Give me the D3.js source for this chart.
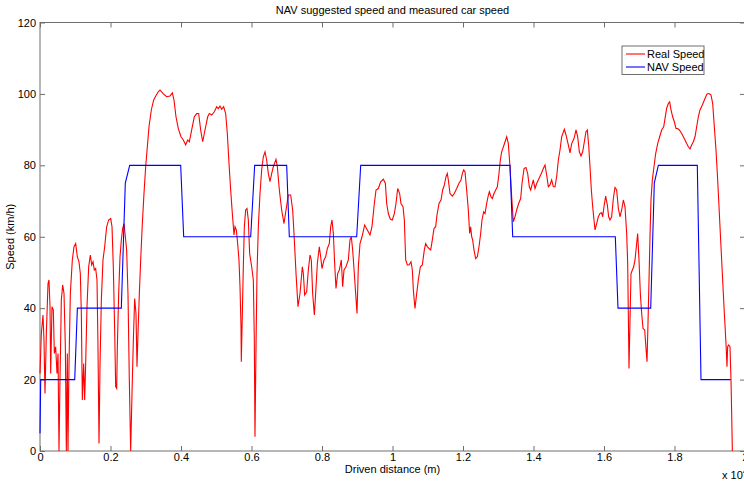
<!DOCTYPE html>
<html>
<head>
<meta charset="utf-8">
<script src="https://cdn.jsdelivr.net/npm/d3@7"></script>
<style>
  body { margin: 0; background: #fff; }
  text { font-family: "Liberation Sans", Arial, sans-serif; }
</style>
</head>
<body>
<div id="chart"></div>
<script>
// chart data (distance in m, speed in km/h)
var realSpeed = [
  [0,21.7],[38,32.9],[85,38.1],[113,31.1],[142,16.1],[180,32.9],[227,46.9],[255,47.9],[284,40.4],[303,21.7],
  [340,40.4],[378,39.5],[407,27.3],[444,29.2],[482,21.7],[511,27.3],[539,0],[567,19.9],[605,42.3],[643,46.5],
  [681,44.1],[719,29.2],[747,0],[775,27.3],[794,0],[823,24.5],[861,44.1],[917,53.5],[965,57.2],[1012,58.1],
  [1059,54.4],[1106,53.0],[1144,49.7],[1173,38.5],[1201,14.3],[1239,24.5],[1267,14.3],[1296,24.5],[1333,40.4],[1381,51.6],
  [1428,54.9],[1466,52.1],[1504,53.0],[1541,50.7],[1579,51.1],[1617,47.9],[1645,29.2],[1674,2.1],[1702,23.6],[1740,42.3],
  [1787,53.5],[1835,57.2],[1891,62.8],[1948,64.7],[2005,65.1],[2043,62.8],[2080,51.6],[2118,33.9],[2147,18.0],[2175,17.5],
  [2194,29.2],[2232,44.1],[2270,54.4],[2307,59.1],[2345,62.3],[2383,63.7],[2421,60.0],[2458,56.3],[2496,44.1],[2534,19.9],
  [2572,0],[2610,16.1],[2648,31.1],[2686,42.7],[2723,38.5],[2752,23.6],[2780,32.9],[2818,44.1],[2856,53.5],[2903,63.7],
  [2950,72.1],[2998,79.6],[3045,85.2],[3092,90.8],[3158,95.5],[3225,98.3],[3300,99.7],[3357,100.6],[3404,101.1],[3499,100.0],
  [3593,99.2],[3688,99.4],[3754,100.3],[3801,98.3],[3858,93.6],[3924,90.3],[4000,88.0],[4066,87.1],[4132,85.7],[4189,87.1],
  [4236,86.6],[4303,89.9],[4378,93.6],[4444,94.5],[4501,94.5],[4558,89.9],[4615,86.6],[4681,89.9],[4757,93.6],[4804,94.5],
  [4870,94.1],[4946,95.0],[5012,96.4],[5059,95.9],[5106,96.6],[5154,95.7],[5210,96.4],[5267,94.5],[5314,88.9],[5362,80.5],
  [5409,73.1],[5456,66.5],[5504,60.5],[5532,62.8],[5570,61.9],[5607,58.1],[5645,53.5],[5674,46.0],[5702,34.8],[5711,25.0],
  [5740,38.5],[5768,51.6],[5797,62.8],[5834,67.5],[5872,67.9],[5910,64.7],[5948,55.3],[6005,51.6],[6052,47.9],[6080,31.1],
  [6099,4.0],[6128,29.2],[6156,49.7],[6194,62.8],[6241,72.1],[6288,78.7],[6336,82.4],[6383,83.8],[6430,81.5],[6478,77.7],
  [6525,75.4],[6572,77.7],[6619,79.6],[6695,81.7],[6733,79.6],[6790,73.1],[6856,67.5],[6922,63.7],[6979,67.5],[7045,71.7],
  [7111,71.7],[7168,67.5],[7215,59.1],[7263,49.7],[7319,40.4],[7376,44.1],[7442,51.6],[7471,49.7],[7508,43.7],[7565,44.6],
  [7612,50.7],[7660,54.9],[7697,53.5],[7735,44.1],[7783,38.1],[7820,44.1],[7868,52.5],[7924,57.2],[7962,54.4],[8000,51.1],
  [8057,53.5],[8104,54.4],[8151,56.7],[8208,58.1],[8246,62.8],[8284,64.7],[8322,60.9],[8359,52.5],[8397,45.5],[8444,49.7],
  [8492,50.7],[8548,53.5],[8586,46.0],[8624,50.7],[8681,51.6],[8747,53.5],[8794,59.1],[8832,60.0],[8870,56.3],[8917,49.7],
  [8955,44.1],[8993,38.5],[9031,51.6],[9078,58.1],[9135,60.0],[9210,63.3],[9286,61.9],[9362,60.5],[9418,62.8],[9475,68.4],
  [9532,73.1],[9598,73.5],[9664,75.4],[9740,76.1],[9797,75.0],[9835,69.3],[9882,66.5],[9939,64.9],[9995,64.7],[10052,66.5],
  [10099,69.3],[10147,73.5],[10203,72.1],[10241,69.3],[10298,68.4],[10336,64.7],[10374,53.5],[10421,52.1],[10468,52.1],[10525,53.0],
  [10563,50.7],[10591,45.1],[10638,39.9],[10686,44.1],[10733,47.9],[10790,51.6],[10846,52.1],[10903,56.3],[10941,58.1],[10988,57.2],
  [11036,56.7],[11083,56.3],[11130,59.1],[11177,62.3],[11225,62.8],[11262,66.1],[11319,69.3],[11376,70.3],[11423,73.1],[11471,74.5],
  [11518,76.8],[11556,77.7],[11584,75.9],[11631,72.1],[11697,71.4],[11754,72.1],[11820,73.5],[11886,75.0],[11943,75.9],[11981,77.7],
  [12019,78.7],[12057,78.2],[12104,73.1],[12151,67.5],[12189,60.9],[12217,62.8],[12246,60.0],[12274,59.1],[12312,56.3],[12359,53.9],
  [12407,54.4],[12454,57.2],[12501,60.9],[12539,64.7],[12586,67.0],[12624,66.5],[12671,69.3],[12709,71.2],[12747,72.6],[12794,71.2],
  [12832,70.7],[12879,72.1],[12927,73.1],[12974,74.0],[13021,77.7],[13059,81.5],[13097,83.8],[13163,85.7],[13239,88.0],[13286,86.1],
  [13333,79.6],[13381,71.2],[13428,64.2],[13475,65.6],[13523,67.5],[13579,69.3],[13636,70.7],[13674,74.9],[13731,79.1],[13787,79.4],
  [13835,77.7],[13882,74.0],[13920,73.1],[13958,74.5],[13995,75.9],[14043,73.5],[14090,74.9],[14156,76.3],[14222,77.7],[14279,79.1],
  [14326,80.1],[14374,77.3],[14421,74.0],[14468,74.5],[14515,75.9],[14563,74.0],[14610,74.0],[14657,76.8],[14705,81.5],[14752,84.3],
  [14799,88.0],[14875,90.1],[14922,88.5],[14988,85.7],[15036,83.5],[15083,86.1],[15149,87.5],[15206,89.9],[15253,88.0],[15300,83.8],
  [15348,82.6],[15395,83.8],[15442,86.6],[15489,89.4],[15527,89.9],[15565,85.7],[15603,79.6],[15641,73.1],[15679,68.4],[15716,64.7],
  [15745,61.9],[15792,63.7],[15839,65.6],[15886,66.5],[15934,66.7],[15962,65.6],[16000,68.4],[16047,71.4],[16095,68.9],[16132,65.6],
  [16170,64.7],[16217,65.6],[16265,70.7],[16312,73.8],[16359,73.1],[16407,67.9],[16454,65.6],[16501,67.5],[16549,70.3],[16596,68.4],
  [16643,60.9],[16672,52.5],[16690,38.5],[16709,23.1],[16738,36.7],[16766,49.7],[16804,50.7],[16842,51.6],[16880,53.5],[16917,57.2],
  [16955,60.9],[16993,53.5],[17031,44.1],[17069,38.5],[17107,34.3],[17154,33.9],[17182,30.1],[17220,25.0],[17248,35.7],[17277,47.9],
  [17305,60.0],[17333,70.3],[17371,75.9],[17418,79.6],[17466,83.3],[17523,86.1],[17579,88.0],[17636,89.9],[17693,90.8],[17731,93.1],
  [17778,96.0],[17825,97.3],[17863,97.8],[17901,95.5],[17948,93.6],[17995,92.2],[18043,90.3],[18090,90.3],[18137,89.9],[18203,88.9],
  [18251,88.0],[18298,87.1],[18345,86.1],[18393,85.2],[18440,84.6],[18487,85.7],[18534,86.6],[18582,88.0],[18629,90.8],[18676,93.6],
  [18723,95.5],[18790,96.9],[18865,98.7],[18922,100.0],[18979,100.1],[19036,99.7],[19083,97.3],[19130,90.8],[19177,84.3],[19225,75.9],
  [19272,66.5],[19319,57.2],[19366,47.9],[19414,38.5],[19461,30.1],[19489,23.6],[19508,29.2],[19537,29.7],[19574,29.2],[19603,19.9],
  [19622,10.5],[19641,0]
];

var navSpeed = [
  [0,5],[20,20],[985,20],[1060,40],[2307,40],[2420,75],[2545,80],[3991,80],[4076,60],[5977,60],
  [6090,80],[6998,80],[7073,60],[8984,60],[9098,80],[13333,80],[13410,60],[16321,60],[16397,40],[17325,40],
  [17427,75],[17541,80],[18647,80],[18752,20],[19594,20]
];

var xTicks = [0, 2000, 4000, 6000, 8000, 10000, 12000, 14000, 16000, 18000, 20000];
var yTicks = [0, 20, 40, 60, 80, 100, 120];
var legendNames = ['Real Speed', 'NAV Speed'];
var legendColors = ['#ff0000', '#0000ff'];

// layout
var width = 744,
    height = 484,
    plotLeft = 40,
    plotRight = 745,
    plotTop = 22.5,
    plotBottom = 451;

var svg = d3.select('#chart').append('svg')
    .attr('width', width)
    .attr('height', height);

var x = d3.scaleLinear().domain([0, 20000]).range([plotLeft, plotRight]);
var y = d3.scaleLinear().domain([0, 120]).range([plotBottom, plotTop]);

var axisColor = '#6e6e6e';

// axes (ticks point inwards, like matlab)
var xAxis = d3.axisBottom(x).tickValues(xTicks).tickSizeInner(-5).tickSizeOuter(0).tickPadding(2)
    .tickFormat(function(d){ return +(d / 1e4).toFixed(1); });
var xAxisTop = d3.axisTop(x).tickValues(xTicks).tickSizeInner(-5).tickSizeOuter(0).tickFormat('');
var yAxis = d3.axisLeft(y).tickValues(yTicks).tickSizeInner(-5).tickSizeOuter(0).tickPadding(4);
var yAxisRight = d3.axisRight(y).tickValues(yTicks).tickSizeInner(-5).tickSizeOuter(0).tickFormat('');

function styleAxis(g){
    g.select('.domain').remove();
    g.selectAll('line').attr('stroke', axisColor);
    g.selectAll('text').attr('fill', '#000').style('font-size', '11px')
        .style('font-family', '"Liberation Sans", Arial, sans-serif');
}

svg.append('g').attr('transform', 'translate(0,' + plotBottom + ')').call(xAxis).call(styleAxis);
svg.append('g').attr('transform', 'translate(0,' + plotTop + ')').call(xAxisTop).call(styleAxis);
svg.append('g').attr('transform', 'translate(' + plotLeft + ',0)').call(yAxis).call(styleAxis);
svg.append('g').attr('transform', 'translate(' + plotRight + ',0)').call(yAxisRight).call(styleAxis);

// axes box
svg.append('rect')
    .attr('x', plotLeft).attr('y', plotTop)
    .attr('width', plotRight - plotLeft).attr('height', plotBottom - plotTop)
    .attr('fill', 'none').attr('stroke', axisColor).attr('stroke-width', 1);

var line = d3.line()
    .x(function(d){ return x(d[0]); })
    .y(function(d){ return y(d[1]); });

svg.append('path')
    .datum(realSpeed)
    .attr('d', line)
    .attr('fill', 'none')
    .attr('stroke', legendColors[0])
    .attr('stroke-width', 1.1);

svg.append('path')
    .datum(navSpeed)
    .attr('d', line)
    .attr('fill', 'none')
    .attr('stroke', legendColors[1])
    .attr('stroke-width', 1.1);

// title and labels
svg.append('text')
    .attr('x', (plotLeft + plotRight) / 2).attr('y', 14)
    .attr('text-anchor', 'middle').style('font-size', '11px')
    .text('NAV suggested speed and measured car speed');

svg.append('text')
    .attr('x', (plotLeft + plotRight) / 2).attr('y', 473)
    .attr('text-anchor', 'middle').style('font-size', '11px')
    .text('Driven distance (m)');

svg.append('text')
    .attr('transform', 'translate(14,' + ((plotTop + plotBottom) / 2) + ') rotate(-90)')
    .attr('text-anchor', 'middle').style('font-size', '11px')
    .text('Speed (km/h)');

var mult = svg.append('text')
    .attr('x', 722).attr('y', 479)
    .style('font-size', '11px');
mult.append('tspan').text('x 10');
mult.append('tspan').attr('dy', -5).style('font-size', '8px').text('4');

// legend
var legend = svg.append('g').attr('transform', 'translate(622,46)');
legend.append('rect')
    .attr('width', 82).attr('height', 28.5)
    .attr('fill', '#fff').attr('stroke', axisColor);

var entry = legend.selectAll('.entry')
    .data(legendNames)
  .enter().append('g')
    .attr('class', 'entry')
    .attr('transform', function(d, i){ return 'translate(0,' + (8 + i * 13) + ')'; });

entry.append('line')
    .attr('x1', 4).attr('x2', 23)
    .attr('stroke', function(d, i){ return legendColors[i]; })
    .attr('stroke-width', 1.1);

entry.append('text')
    .attr('x', 25).attr('y', 4)
    .style('font-size', '11px')
    .text(function(d){ return d; });
</script>
</body>
</html>
